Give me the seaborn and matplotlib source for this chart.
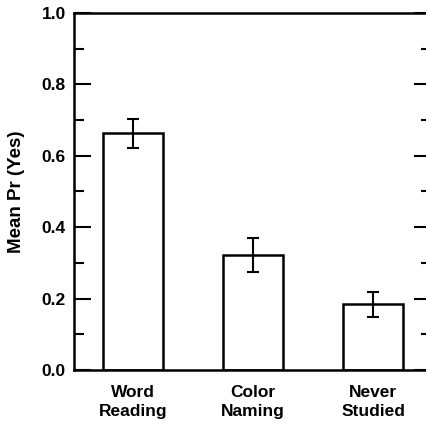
import matplotlib
matplotlib.use("Agg")
import matplotlib.pyplot as plt
import seaborn as sns
import numpy as np
from matplotlib.ticker import MultipleLocator

conditions = ["Word\nReading", "Color\nNaming", "Never\nStudied"]
mean_yes = [0.663, 0.322, 0.184]
err_yes = [0.040, 0.048, 0.035]

sns.set_style("ticks", {"axes.edgecolor": "black", "text.color": "black",
                        "xtick.color": "black", "ytick.color": "black",
                        "axes.labelcolor": "black"})
plt.rcParams['font.family'] = ['Liberation Sans', 'DejaVu Sans']
plt.rcParams['font.weight'] = 'bold'

fig = plt.figure(figsize=(4.26, 4.26), dpi=100)
# the right edge of the axes sits just past the picture, as in the original
ax = fig.add_axes([74/426, 1 - 370/426, 357/426, 357/426])

sns.barplot(x=conditions, y=mean_yes, ax=ax, color="white", edgecolor="black",
            linewidth=1.8, width=0.5, errorbar=None, saturation=1)
ax.errorbar(np.arange(len(conditions)), mean_yes, yerr=err_yes, fmt="none",
            ecolor="black", elinewidth=1.5, capsize=4.3, capthick=1.5)

ax.set_xlim(-0.49, 2.483)
ax.set_ylim(0, 1.0)
ax.yaxis.set_major_locator(MultipleLocator(0.2))
ax.yaxis.set_minor_locator(MultipleLocator(0.1))
ax.set_yticks(np.arange(0, 1.01, 0.2))
ax.set_yticklabels([f"{v:.1f}" for v in np.arange(0, 1.01, 0.2)], fontsize=12.5, fontweight='bold')
ax.tick_params(axis='y', which='major', direction='in', length=12, width=1.5,
               left=True, right=True, pad=6, colors='black')
ax.tick_params(axis='y', which='minor', direction='in', length=7, width=1.5,
               left=True, right=True, colors='black')
ax.tick_params(axis='x', length=0, pad=11, labelsize=12.5, colors='black')
for lab in ax.get_xticklabels():
    lab.set_fontweight('bold')
    lab.set_linespacing(1.35)

for side in ['left', 'top', 'bottom']:
    ax.spines[side].set_visible(True)
    ax.spines[side].set_linewidth(1.8)
    ax.spines[side].set_color('black')
ax.spines['right'].set_visible(False)

ax.set_ylabel("Mean Pr (Yes)", fontsize=13.5, fontweight='bold', color='black')
ax.yaxis.set_label_coords(-0.138, 0.5)

fig.savefig("out.png", dpi=100)
